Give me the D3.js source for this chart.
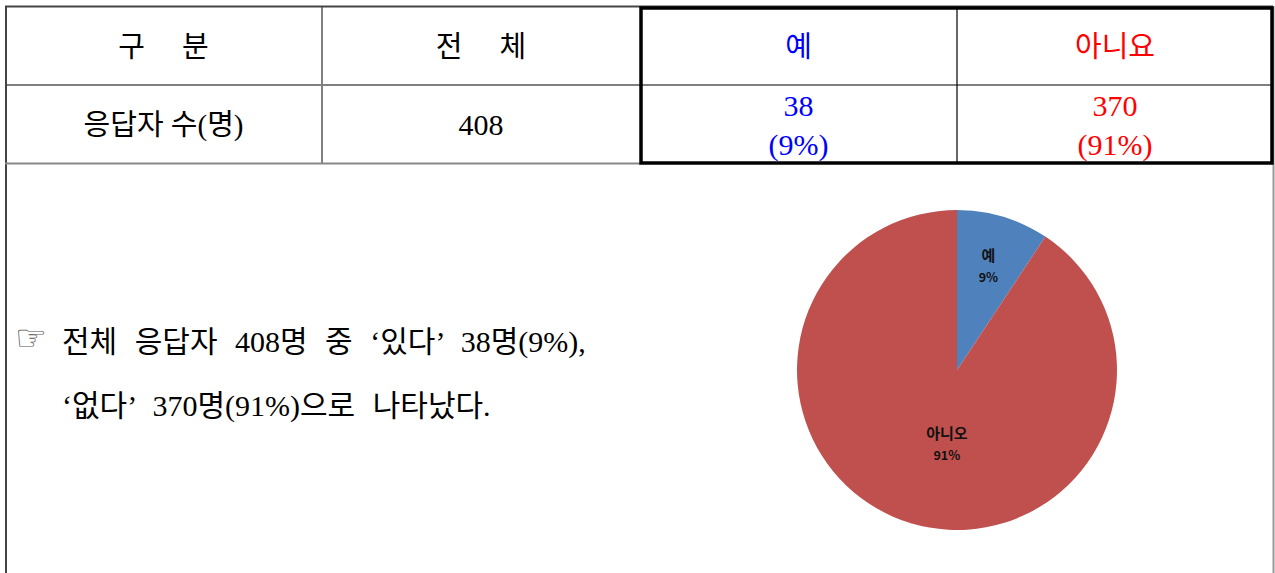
<!DOCTYPE html>
<html>
<head>
<meta charset="utf-8">
<script src="https://cdn.jsdelivr.net/npm/d3@7"></script>
<style>
  html, body { margin: 0; padding: 0; background: #fff; }
  svg { display: block; }
</style>
</head>
<body>
<svg id="chart" width="1275" height="573"></svg>
<script>
"use strict";

// table contents
const headers = ["구 분", "전 체", "예", "아니요"];
const headerColors = ["#000", "#000", "#0000ff", "#ff0000"];
const rowLabel = "응답자 수(명)";
const total = 408;
// pie data
const categories = ["예", "아니오"];
const counts = [38, 370];
const percents = [9, 91];
const sliceColors = ["#4f81bd", "#c0504d"];
const summaryLines = [
  "전체 응답자 408명 중 ‘있다’ 38명(9%),",
  "‘없다’ 370명(91%)으로 나타났다."
];

const font = "'Liberation Serif', 'Noto Sans CJK KR', serif";

function translate(x, y) {
  return "translate(" + x + "," + y + ")";
}

const svg = d3.select("#chart");

// column edges / row edges
const colX = [5, 322, 640, 957, 1273];
const rowY = [7, 85, 163];
const colMid = d3.range(4).map((i) => (colX[i] + colX[i + 1]) / 2);

const grid = svg.append("g");
// thin inner lines
grid.append("line").attr("x1", colX[0]).attr("x2", colX[4]).attr("y1", rowY[1]).attr("y2", rowY[1])
  .attr("stroke", "#000").attr("stroke-width", 1.2);
grid.append("line").attr("x1", colX[1]).attr("x2", colX[1]).attr("y1", rowY[0]).attr("y2", rowY[2])
  .attr("stroke", "#808080").attr("stroke-width", 2);
grid.append("line").attr("x1", colX[3]).attr("x2", colX[3]).attr("y1", rowY[0]).attr("y2", rowY[2])
  .attr("stroke", "#000").attr("stroke-width", 1.2);
// outer border (whole page box)
grid.append("line").attr("x1", colX[0]).attr("x2", colX[4]).attr("y1", 6.5).attr("y2", 6.5)
  .attr("stroke", "#444").attr("stroke-width", 2);
grid.append("line").attr("x1", 6).attr("x2", 6).attr("y1", 6).attr("y2", 573)
  .attr("stroke", "#444").attr("stroke-width", 2);
grid.append("line").attr("x1", 1273.5).attr("x2", 1273.5).attr("y1", 6).attr("y2", 573)
  .attr("stroke", "#999").attr("stroke-width", 2);
grid.append("line").attr("x1", colX[0]).attr("x2", colX[2]).attr("y1", 163.5).attr("y2", 163.5)
  .attr("stroke", "#888").attr("stroke-width", 2);
// thick box round the answer columns
grid.append("rect")
  .attr("x", 641).attr("y", 8).attr("width", 631).attr("height", 155)
  .attr("fill", "none").attr("stroke", "#000").attr("stroke-width", 3.5);

// header row
svg.append("g").selectAll("text")
  .data(headers)
  .join("text")
  .attr("x", (d, i) => colMid[i])
  .attr("y", 57)
  .attr("text-anchor", "middle")
  .attr("font-family", font)
  .attr("font-size", 29)
  .attr("fill", (d, i) => headerColors[i])
  .attr("letter-spacing", (d, i) => (i < 2 ? 15 : 0))
  .attr("dx", (d, i) => (i < 2 ? 7.5 : 0))
  .text((d) => d);

// data row
const body = svg.append("g")
  .attr("font-family", font)
  .attr("font-size", 29)
  .attr("text-anchor", "middle");
body.append("text").attr("x", colMid[0]).attr("y", 135).text(rowLabel);
body.append("text").attr("x", colMid[1]).attr("y", 135).attr("font-size", 30).text(total);
counts.forEach((c, i) => {
  const g = body.append("g").attr("fill", headerColors[i + 2]).attr("font-size", 30);
  g.append("text").attr("x", colMid[i + 2]).attr("y", 116).text(c);
  g.append("text").attr("x", colMid[i + 2]).attr("y", 155).text("(" + percents[i] + "%)");
});

// summary text
const sum = svg.append("g")
  .attr("font-family", font)
  .attr("font-size", 30)
  .attr("word-spacing", 10);
sum.append("text").attr("x", 15).attr("y", 350).attr("font-family", "'DejaVu Sans', sans-serif")
  .attr("font-size", 36).attr("fill", "#555").text("☞");
summaryLines.forEach((t, i) => {
  sum.append("text")
    .attr("x", 62)
    .attr("y", 352 + i * 64)
    .text(t);
});

// pie chart
const cx = 957, cy = 370, r = 160;
const pie = d3.pie().sort(null).value((d) => d)(counts);
const arc = d3.arc().innerRadius(0).outerRadius(r);
const pg = svg.append("g").attr("transform", translate(cx, cy));
pg.selectAll("path")
  .data(pie)
  .join("path")
  .attr("d", arc)
  .attr("fill", (d, i) => sliceColors[i]);

// label placement: radius fraction and a small horizontal nudge per slice
const labelRadius = [0.68, 0.48];
const labelNudge = [0, 12];
const lab = pg.selectAll("g.lab")
  .data(pie)
  .join("g")
  .attr("class", "lab")
  .attr("transform", (d, i) => {
    const la = d3.arc().innerRadius(r * labelRadius[i]).outerRadius(r * labelRadius[i]);
    const c = la.centroid(d);
    return translate(c[0] + labelNudge[i], c[1]);
  })
  .attr("font-family", "'Noto Sans CJK KR', sans-serif")
  .attr("font-weight", "bold")
  .attr("text-anchor", "middle")
  .attr("fill", "#111");
lab.append("text").attr("y", -5).attr("font-size", 15).text((d, i) => categories[i]);
lab.append("text").attr("y", 16).attr("font-size", 12.5).text((d, i) => percents[i] + "%");
</script>
</body>
</html>
